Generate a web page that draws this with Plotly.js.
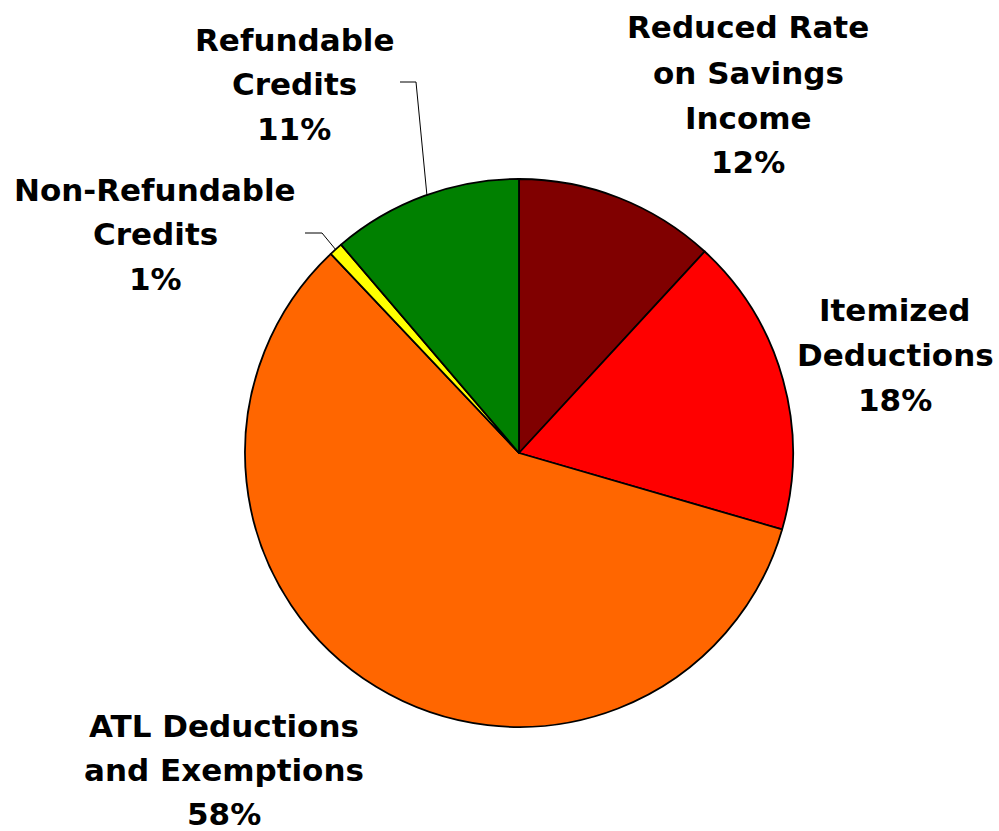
<!DOCTYPE html>
<html>
<head>
<meta charset="utf-8">
<script src="https://cdn.plot.ly/plotly-3.0.1.min.js"></script>
<style>html,body{margin:0;padding:0;background:#fff;}#chart{width:999px;height:831px;}</style>
</head>
<body>
<div id="chart"></div>
<script>
// Data (clockwise from 12 o'clock)
const categories = ['Reduced Rate<br>on Savings<br>Income', 'Itemized<br>Deductions', 'ATL Deductions<br>and Exemptions', 'Non-Refundable<br>Credits', 'Refundable<br>Credits'];
const shares = [11.85, 17.65, 58.45, 0.8, 11.25];
const colors = ['#800000', '#FF0000', '#FF6600', '#FFFF00', '#008000'];

const W = 999, H = 831;
const px = x => x / W;
const py = y => 1 - y / H;

// Pie geometry (pixels)
const cx = 519, cy = 453, r = 274;

const trace = {
  type: 'pie',
  values: shares,
  labels: categories,
  sort: false,
  direction: 'clockwise',
  rotation: 0,
  textinfo: 'none',
  hoverinfo: 'label+percent',
  marker: { colors: colors, line: { color: '#000000', width: 1.8 } },
  domain: { x: [px(cx - r), px(cx + r)], y: [py(cy + r), py(cy - r)] },
  showlegend: false
};

// Label placement (pixel centers of each line) - layout only
const labelPos = [
  { x: 748, ys: [27, 73, 118, 162] },
  { x: 895, ys: [310, 355, 400] },
  { x: 224, ys: [726, 770, 814] },
  { x: 155, ys: [190, 234, 279] },
  { x: 294, ys: [40, 84, 129] }
];

const total = shares.reduce((a, b) => a + b, 0);
const annotations = [];
categories.forEach((cat, i) => {
  const lines = cat.split('<br>');
  lines.push(Math.round(shares[i] / total * 100) + '%');
  lines.forEach((ln, j) => {
    annotations.push({
      text: ln,
      xref: 'paper', yref: 'paper',
      x: px(labelPos[i].x), y: py(labelPos[i].ys[j]),
      xanchor: 'center', yanchor: 'middle',
      showarrow: false,
      font: { family: 'DejaVu Sans, Arial, sans-serif', size: 31, color: '#000000', weight: 'bold' }
    });
  });
});

const leader = (pts) => ({
  type: 'path', xref: 'paper', yref: 'paper',
  path: pts.map((p, k) => (k ? 'L ' : 'M ') + px(p[0]) + ',' + py(p[1])).join(' '),
  line: { color: '#000000', width: 1 }
});

const layout = {
  width: W, height: H,
  margin: { l: 0, r: 0, t: 0, b: 0 },
  paper_bgcolor: '#ffffff',
  plot_bgcolor: '#ffffff',
  annotations: annotations,
  shapes: [
    leader([[400, 82], [416, 82], [427, 196]]),
    leader([[305, 233], [322, 233], [336, 250]])
  ]
};

Plotly.newPlot('chart', [trace], layout, { displayModeBar: false, staticPlot: true });
</script>
</body>
</html>
